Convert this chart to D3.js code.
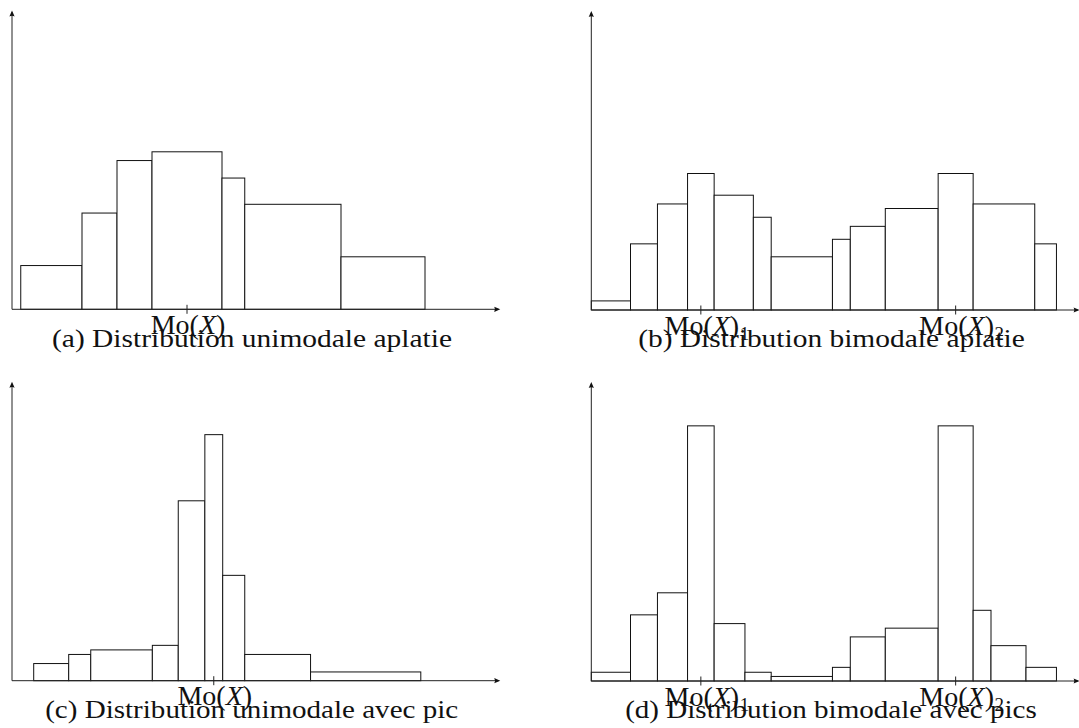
<!DOCTYPE html>
<html>
<head>
<meta charset="utf-8">
<script src="https://cdn.jsdelivr.net/npm/d3@7"></script>
<style>
  html, body { margin: 0; padding: 0; background: #fff; }
  svg { display: block; }
  text { font-family: "Liberation Serif", "Times New Roman", serif; fill: #111; }
</style>
</head>
<body>
<svg id="chart" width="1079" height="728"></svg>
<script>
// Histogram class boundaries (x, in length units) and bar heights (densities)
const edgesA   = [0.25, 2, 3, 4, 6, 6.65, 9.4, 11.8];
const heightsA = [1.25, 2.75, 4.25, 4.5, 3.75, 3, 1.5];

const edgesB   = [0, 1.12, 1.89, 2.75, 3.51, 4.63, 5.14, 6.89, 7.4, 8.4, 9.91, 10.91, 12.67, 13.29];
const heightsB = [0.26, 1.89, 3.03, 3.9, 3.28, 2.65, 1.52, 2.02, 2.39, 2.9, 3.9, 3.03, 1.89];

const edgesC   = [0.62, 1.62, 2.25, 4.01, 4.75, 5.51, 6.02, 6.65, 8.53, 11.68];
const heightsC = [0.49, 0.75, 0.88, 1.01, 5.14, 7.03, 3.01, 0.75, 0.25];

const edgesD   = [0, 1.12, 1.89, 2.75, 3.51, 4.39, 5.14, 6.89, 7.4, 8.4, 9.91, 10.91, 11.42, 12.42, 13.29];
const heightsD = [0.25, 1.89, 2.52, 7.29, 1.64, 0.25, 0.13, 0.39, 1.26, 1.51, 7.29, 2.02, 1.01, 0.39];

// Index of the modal class(es) and their axis labels
const modeBinsA = [3];
const modeBinsB = [3, 10];
const modeBinsC = [5];
const modeBinsD = [3, 10];
const modeLabelsUni = [""];
const modeLabelsBi  = ["1", "2"];

const captions = [
  "(a) Distribution unimodale aplatie",
  "(b) Distribution bimodale aplatie",
  "(c) Distribution unimodale avec pic",
  "(d) Distribution bimodale avec pics"
];

// Axis extents in data units
const xAxisMax = 13.95;
const yAxisMax = 8.54;
const UNIT = 35; // pixels per unit

const svg = d3.select("#chart");

const panels = [
  { ox: 12,    oy: 309.3, edges: edgesA, heights: heightsA, modes: modeBinsA, subs: modeLabelsUni, caption: captions[0], cx: 252 },
  { ox: 591.3, oy: 310,   edges: edgesB, heights: heightsB, modes: modeBinsB, subs: modeLabelsBi,  caption: captions[1], cx: 831.5 },
  { ox: 12,    oy: 680.7, edges: edgesC, heights: heightsC, modes: modeBinsC, subs: modeLabelsUni, caption: captions[2], cx: 251.7 },
  { ox: 591.3, oy: 681,   edges: edgesD, heights: heightsD, modes: modeBinsD, subs: modeLabelsBi,  caption: captions[3], cx: 831 }
];

const captionWidths = [400, 386.7, 413, 411.7];

panels.forEach((p, pi) => {
  const x = d3.scaleLinear().domain([0, xAxisMax]).range([p.ox, p.ox + xAxisMax * UNIT]);
  const y = d3.scaleLinear().domain([0, yAxisMax]).range([p.oy, p.oy - yAxisMax * UNIT]);

  const g = svg.append("g");

  const bins = p.heights.map((h, i) => ({ x0: p.edges[i], x1: p.edges[i + 1], h }));

  // Bars
  g.selectAll("rect.bar")
    .data(bins)
    .join("rect")
    .attr("class", "bar")
    .attr("x", d => x(d.x0))
    .attr("y", d => y(d.h))
    .attr("width", d => x(d.x1) - x(d.x0))
    .attr("height", d => y(0) - y(d.h))
    .attr("fill", "#fff")
    .attr("stroke", "#111")
    .attr("stroke-width", 1);

  // Axes
  const x0 = x(0), y0 = y(0), xEnd = x(xAxisMax), yTop = y(yAxisMax);
  g.append("line").attr("x1", x0).attr("y1", y0).attr("x2", xEnd - 2).attr("y2", y0)
    .attr("stroke", "#222").attr("stroke-width", 1);
  g.append("line").attr("x1", x0).attr("y1", y0).attr("x2", x0).attr("y2", yTop + 2)
    .attr("stroke", "#222").attr("stroke-width", 1);
  // arrow heads
  g.append("path")
    .attr("d", `M${xEnd},${y0} L${xEnd - 6},${y0 - 2.6} Q${xEnd - 4.5},${y0} ${xEnd - 6},${y0 + 2.6} Z`)
    .attr("fill", "#111");
  g.append("path")
    .attr("d", `M${x0},${yTop} L${x0 - 2.6},${yTop + 6} Q${x0},${yTop + 4.5} ${x0 + 2.6},${yTop + 6} Z`)
    .attr("fill", "#111");

  // Mode ticks and labels
  p.modes.forEach((bi, k) => {
    const mx = x((p.edges[bi] + p.edges[bi + 1]) / 2);
    g.append("line").attr("x1", mx).attr("x2", mx).attr("y1", y0 - 4.5).attr("y2", y0 + 4.5)
      .attr("stroke", "#222").attr("stroke-width", 1);
    const lab = g.append("text")
      .attr("x", mx + 1).attr("y", y0 + 24.5)
      .attr("text-anchor", "middle")
      .style("font-size", "28px");
    lab.append("tspan").text("Mo(");
    lab.append("tspan").style("font-style", "italic").text("X");
    lab.append("tspan").text(")");
    if (p.subs[k]) {
      const bb = lab.node().getBBox();
      g.append("text")
        .attr("x", bb.x + bb.width + 0.5).attr("y", y0 + 30)
        .style("font-size", "19px")
        .text(p.subs[k]);
    }
  });

  // Caption
  g.append("text")
    .attr("x", p.cx).attr("y", y0 + 37.4)
    .attr("text-anchor", "middle")
    .attr("textLength", captionWidths[pi])
    .attr("lengthAdjust", "spacingAndGlyphs")
    .style("font-size", "26px")
    .text(p.caption);
});
</script>
</body>
</html>
